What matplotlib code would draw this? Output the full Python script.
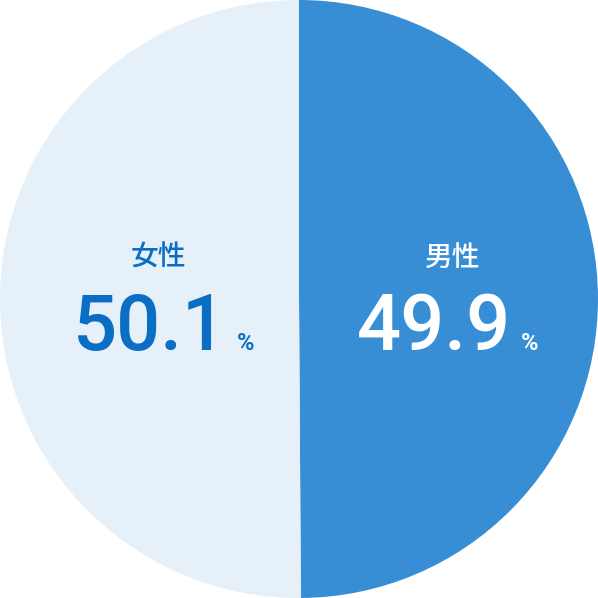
import matplotlib
matplotlib.use("Agg")
import matplotlib.pyplot as plt

labels = ["男性", "女性"]
values = [49.9, 50.1]
colors = ["#388ed4", "#e5f0f9"]
text_colors = ["#ffffff", "#0a6ec4"]

fig = plt.figure(figsize=(5.98, 5.98), dpi=100)
ax = fig.add_axes([0, 0, 1, 1])
ax.pie(values, colors=colors, startangle=90, counterclock=False, radius=1.0)
ax.set_xlim(-1, 1); ax.set_ylim(-1, 1); ax.set_aspect("equal"); ax.axis("off")

pos = [(0.51, 0.45), (-0.47, -0.5)]
for lab, v, tc, (lx, nx) in zip(labels, values, text_colors, pos):
    ax.text(lx, 0.14, lab, ha="center", va="center", fontsize=20, color=tc,
            family=["Noto Sans CJK JP", "DejaVu Sans"], fontweight="medium")
    ax.text(nx, -0.1, f"{v:.1f}", ha="center", va="center", fontsize=56, color=tc,
            family="Roboto", fontweight="medium")
    ax.text(nx + 0.32, -0.15, "%", ha="center", va="center", fontsize=17, color=tc,
            family="Roboto", fontweight="bold")

fig.savefig("out.png", dpi=100)
